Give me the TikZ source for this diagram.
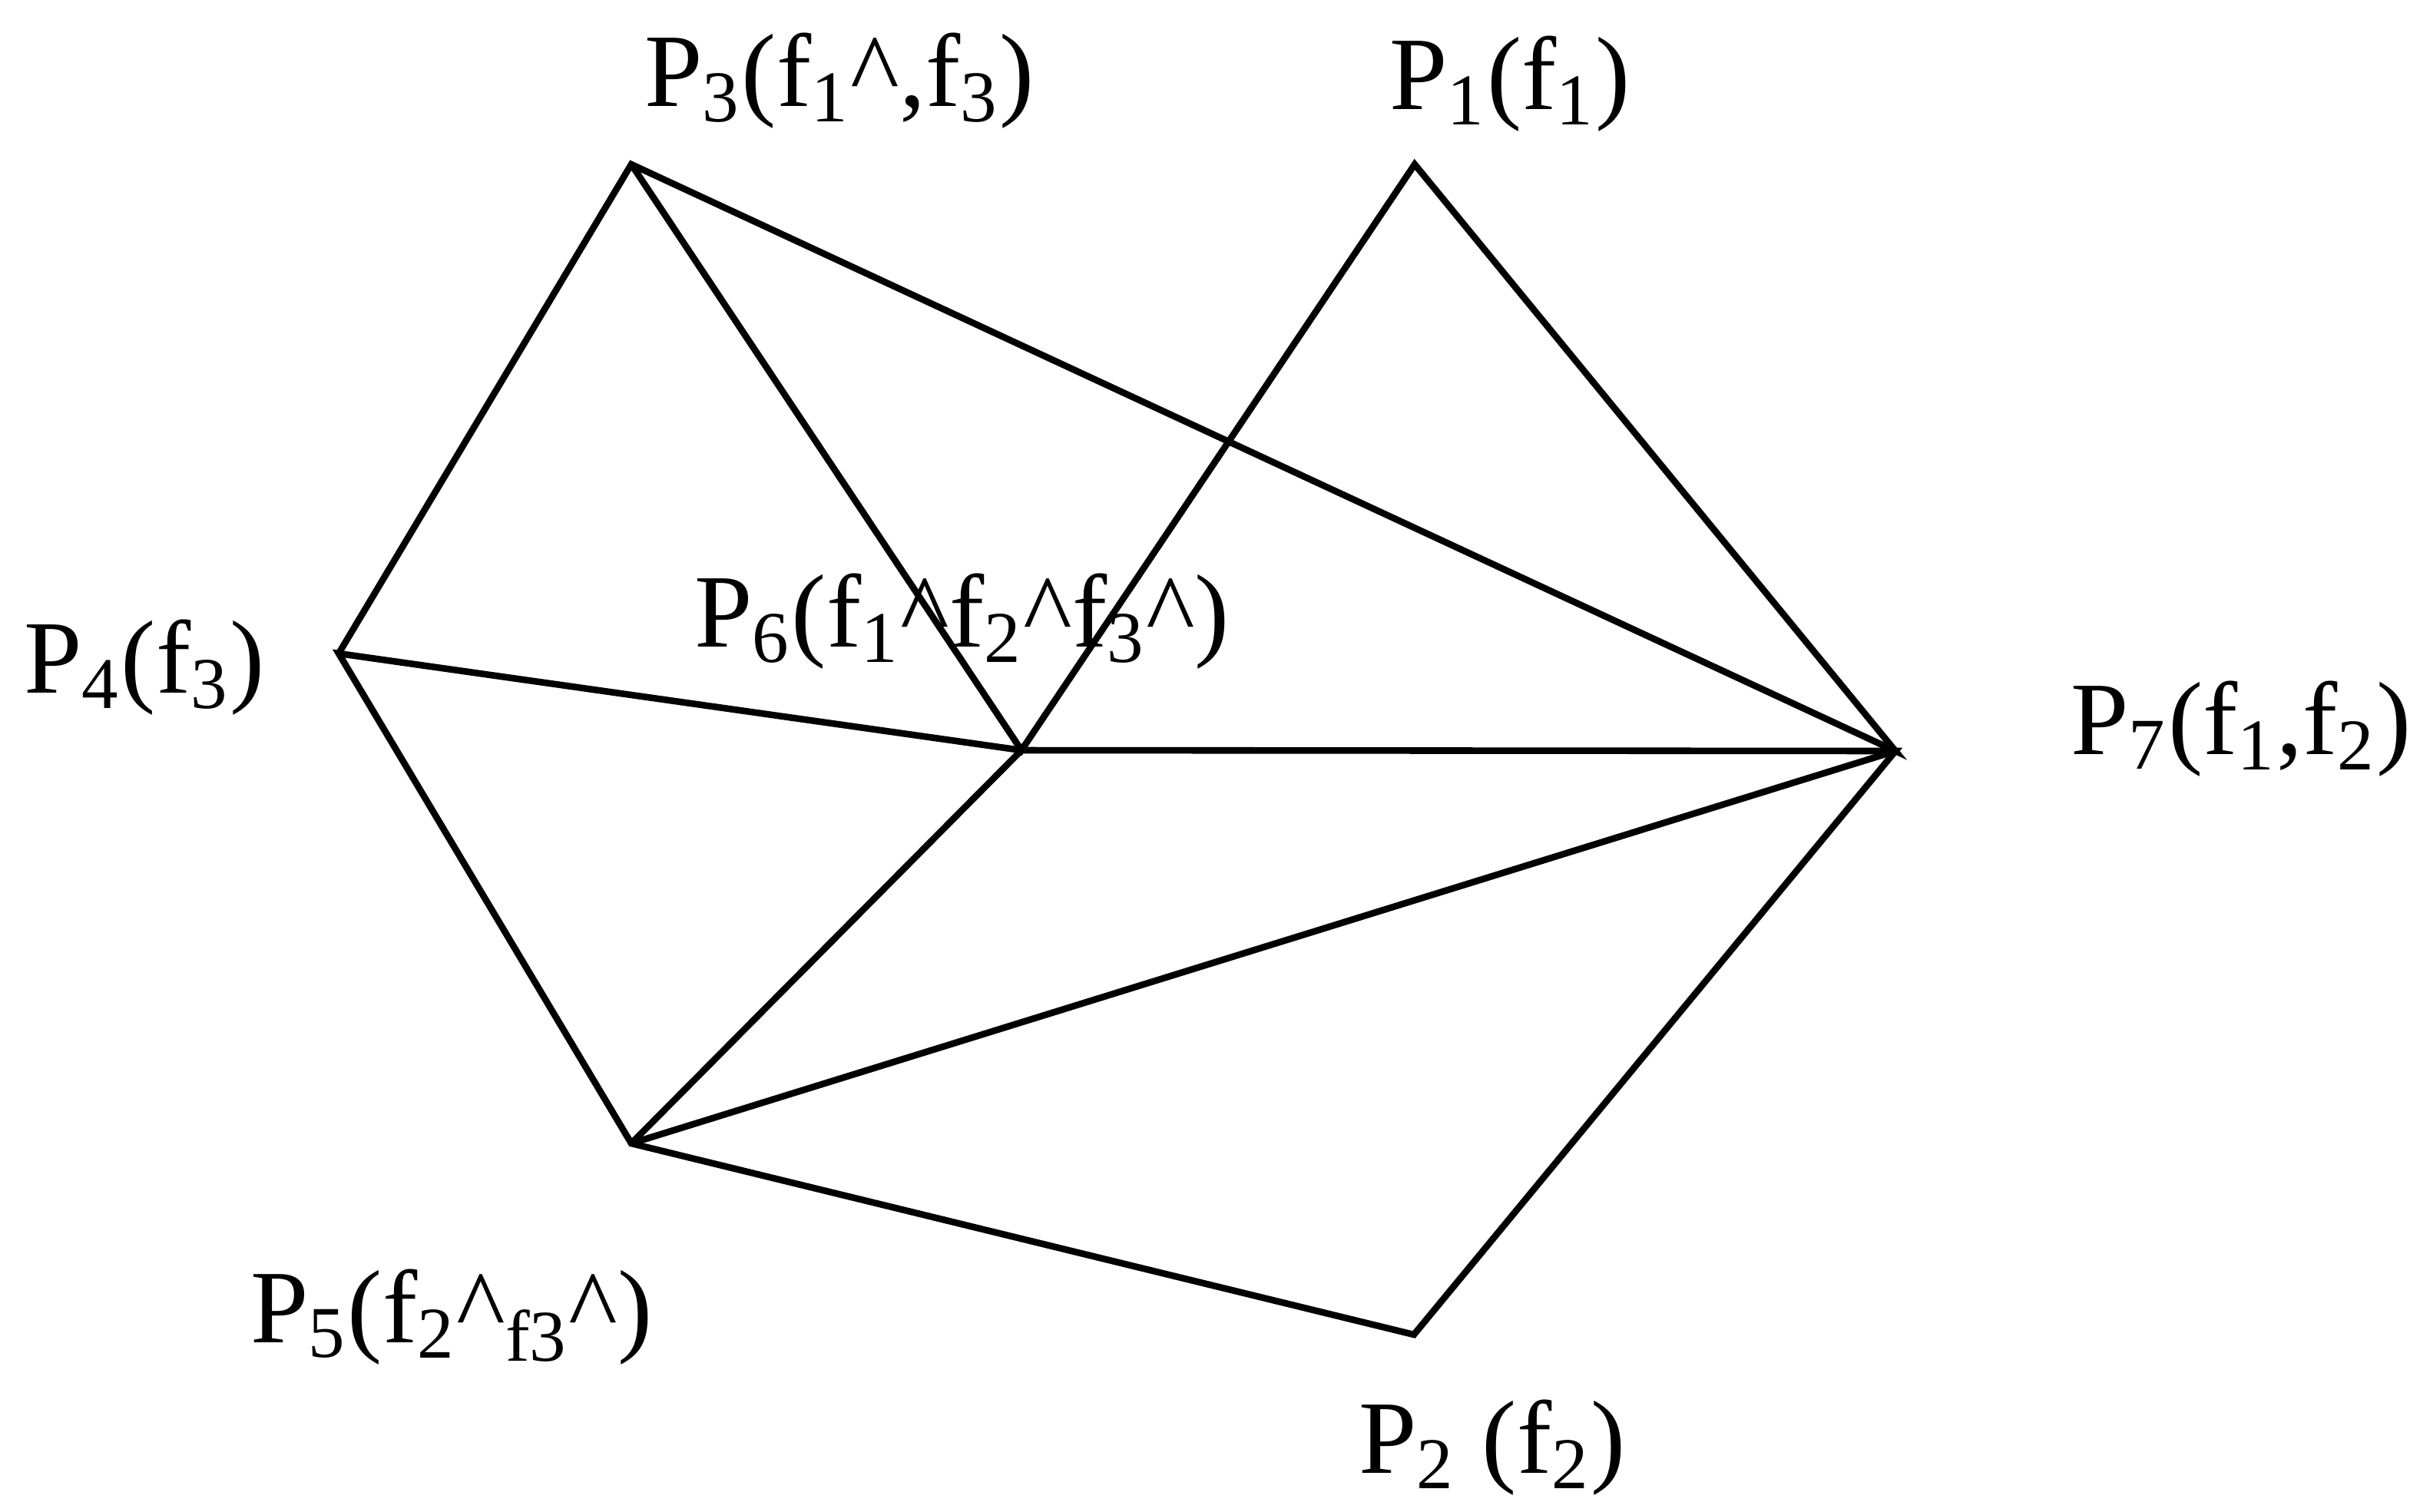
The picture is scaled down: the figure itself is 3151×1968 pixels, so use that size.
\documentclass[tikz,border=0pt]{standalone}
\usepackage{fontspec}
\setmainfont{Liberation Serif}
\tikzset{
  edge/.style={line width=1.2pt, line join=miter},
  lbl/.style={anchor=base west, inner sep=0pt, font=\fontsize{19}{23}\selectfont}
}
\newcommand{\ct}{\textasciicircum}
\begin{document}
\begin{tikzpicture}[x=0.14pt, y=-0.14pt]
\useasboundingbox (0,0) rectangle (3151,1968);
% vertices
\coordinate (p3) at (822,214);
\coordinate (p1) at (1842,214);
\coordinate (p4) at (441,851);
\coordinate (p6) at (1330,977);
\coordinate (p7) at (2468,978);
\coordinate (p5) at (822,1489);
\coordinate (p2) at (1841,1738);

% edges
\draw[edge] (p4) -- (p3) -- (p7) -- (p1) -- (p6) -- (p3);
\draw[edge] (p4) -- (p6) -- (p7) -- (p2) -- (p5) -- cycle;
\draw[edge] (p5) -- (p6);
\draw[edge] (p5) -- (p7);

% labels
\node[lbl] (l3) at (838,138) {P\textsubscript{3}(f\textsubscript{1}\ct,f\textsubscript{3})};
\node[lbl] (l1) at (1808,142) {P\textsubscript{1}(f\textsubscript{1})};
\node[lbl] (l4) at (30,902) {P\textsubscript{4}(f\textsubscript{3})};
\node[lbl] (l6) at (903,842) {P\textsubscript{6}(f\textsubscript{1}\ct f\textsubscript{2}\ct f\textsubscript{3}\ct)};
\node[lbl] (l7) at (2695,982) {P\textsubscript{7}(f\textsubscript{1},f\textsubscript{2})};
\node[lbl] (l5) at (325,1748) {P\textsubscript{5}(f\textsubscript{2}\ct\textsubscript{f3}\ct)};
\node[lbl] (l2) at (1768,1918) {P\textsubscript{2} (f\textsubscript{2})};
\end{tikzpicture}
\end{document}
